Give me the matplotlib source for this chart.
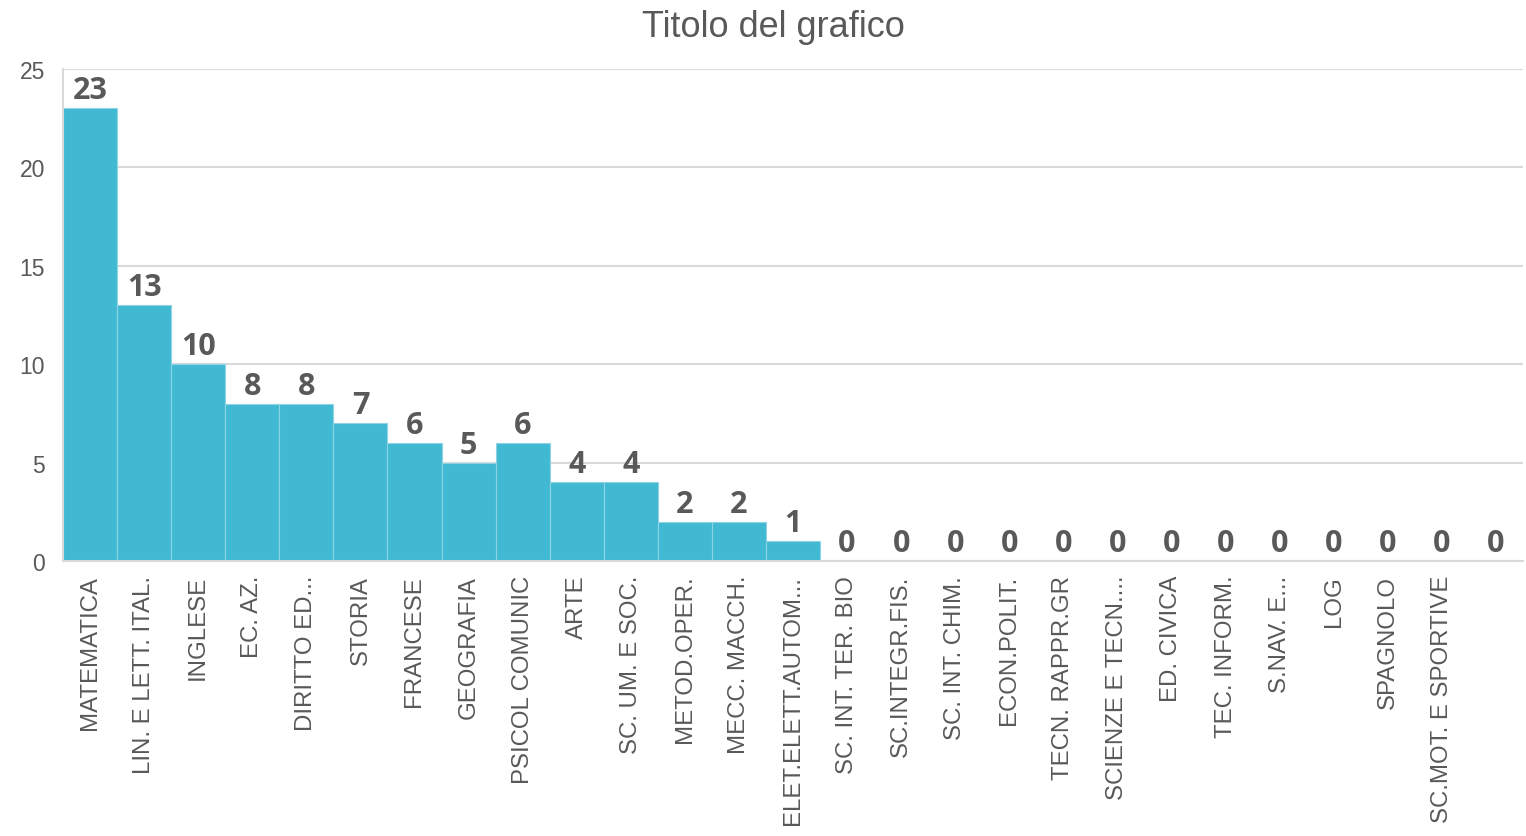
import numpy as np
import matplotlib.pyplot as plt

# Dati
materie = ["MATEMATICA", "LIN. E LETT. ITAL.", "INGLESE", "EC. AZ.", "DIRITTO ED...",
           "STORIA", "FRANCESE", "GEOGRAFIA", "PSICOL COMUNIC", "ARTE",
           "SC. UM. E SOC.", "METOD.OPER.", "MECC. MACCH.", "ELET.ELETT.AUTOM...",
           "SC. INT. TER. BIO", "SC.INTEGR.FIS.", "SC. INT. CHIM.", "ECON.POLIT.",
           "TECN. RAPPR.GR", "SCIENZE E TECN....", "ED. CIVICA", "TEC. INFORM.",
           "S.NAV. E...", "LOG", "SPAGNOLO", "SC.MOT. E SPORTIVE", ""]
valori = [23, 13, 10, 8, 8, 7, 6, 5, 6, 4, 4, 2, 2, 1,
          0, 0, 0, 0, 0, 0, 0, 0, 0, 0, 0, 0, 0]
y_ticks = [0, 5, 10, 15, 20, 25]

grigio = "#595959"
colore_barre = "#41B9D3"

fig = plt.figure(figsize=(15.26, 8.37), dpi=100)
ax = fig.add_axes([0.0413, 0.3286, 0.9567, 0.5878])

x = np.arange(len(materie))
ax.bar(x, valori, width=1.0, color=colore_barre, edgecolor="#8FD3E4", linewidth=0.8, zorder=2)

# etichette dei valori sopra le barre
for xi, v in zip(x, valori):
    ax.text(xi, v + 0.15, str(v), ha="center", va="bottom", fontsize=22,
            fontweight="bold", family="Open Sans", color=grigio)

ax.set_xlim(-0.5, len(materie) - 0.5)
ax.set_ylim(0, 25)
ax.set_yticks(y_ticks)
ax.set_yticklabels([str(t) for t in y_ticks], fontsize=16.5, family="Liberation Sans", color=grigio)
ax.set_xticks(x)
ax.set_xticklabels(materie, rotation=90, ha="center", va="top", fontsize=17.3,
                   family="Liberation Sans", color=grigio)
ax.tick_params(axis="both", length=0)
ax.tick_params(axis="x", pad=10)
ax.tick_params(axis="y", pad=13)

ax.grid(axis="y", color="#D9D9D9", linewidth=1.5, zorder=0)
for s in ["top", "right"]:
    ax.spines[s].set_visible(False)
ax.spines["left"].set_color("#D9D9D9")
ax.spines["bottom"].set_color("#D9D9D9")
ax.spines["left"].set_linewidth(1.5)
ax.spines["bottom"].set_linewidth(1.5)

fig.text(0.507, 0.967, "Titolo del grafico", ha="center", va="center", fontsize=26,
         family="Liberation Sans", color=grigio)

fig.savefig("out.png", dpi=100, facecolor="white")
